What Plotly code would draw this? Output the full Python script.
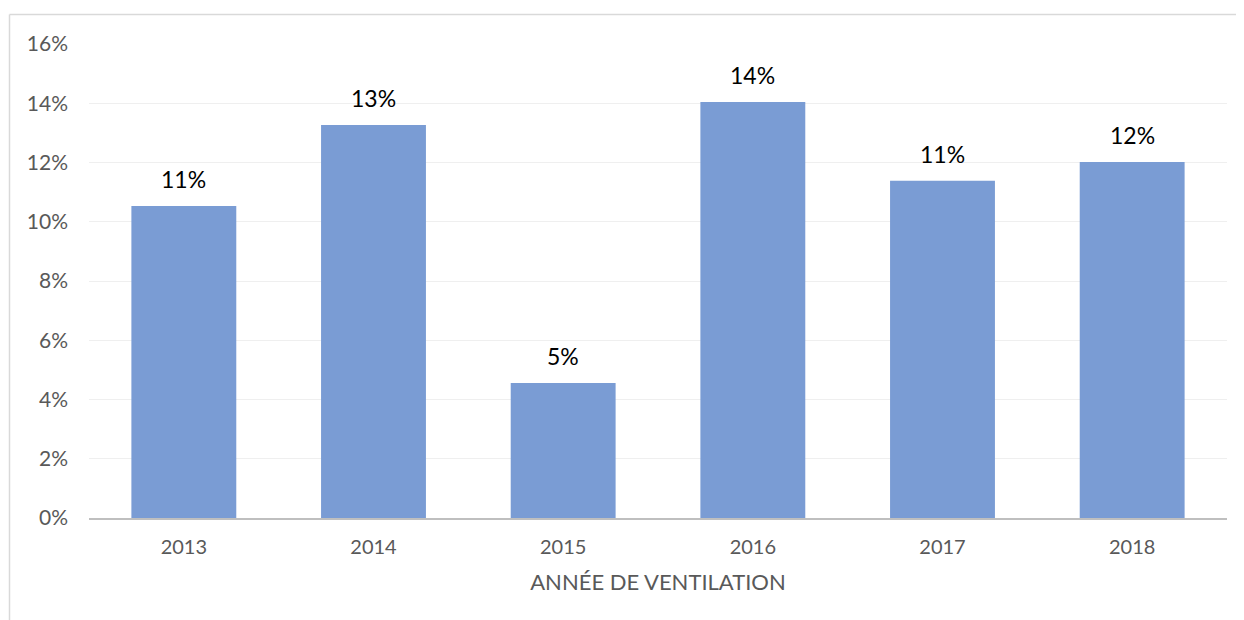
import plotly.graph_objects as go

years = ["2013", "2014", "2015", "2016", "2017", "2018"]
values = [0.1053, 0.1327, 0.0456, 0.1404, 0.1138, 0.1202]
labels = ["11%", "13%", "5%", "14%", "11%", "12%"]
y_ticks = [0, 0.02, 0.04, 0.06, 0.08, 0.10, 0.12, 0.14, 0.16]

FONT = "Lato"
OFF = 8  # browser default body margin
W, H = 1244 - OFF, 620 - OFF
L, R, T, B = 89 - OFF, 17, 44 - OFF, 102
PW, PH = W - L - R, H - T - B

fig = go.Figure()
fig.add_trace(go.Bar(
    x=years, y=values,
    marker=dict(color="#7A9CD4", line=dict(width=0)),
    hoverinfo="skip",
))

# category axis: annotate by category index
for i, (v, lab) in enumerate(zip(values, labels)):
    fig.add_annotation(x=i, y=v, text=lab, showarrow=False,
                       yanchor="bottom", yshift=11,
                       font=dict(family=FONT, size=23, color="#000000"))

frame_top = 14.5 - OFF
frame_left = 9.5 - OFF
fig.update_layout(
    width=W, height=H,
    margin=dict(l=L, r=R, t=T, b=B),
    paper_bgcolor="white", plot_bgcolor="white",
    showlegend=False,
    bargap=0.447,
    font=dict(family=FONT, color="#595959"),
    xaxis=dict(
        type="category", range=[-0.5, len(years) - 0.5],
        title=dict(text="ANNÉE DE VENTILATION", font=dict(size=22, color="#595959"), standoff=18),
        tickfont=dict(size=20, color="#595959"),
        showline=True, linecolor="#BFBFBF", linewidth=2,
        ticks="", showgrid=False, ticklabelstandoff=10,
    ),
    yaxis=dict(
        range=[0, 0.16], tickvals=y_ticks, tickformat=".0%",
        tickfont=dict(size=21, color="#595959"),
        showgrid=True, gridcolor="#EFEFEF", gridwidth=1,
        zeroline=False, ticks="", ticklabelstandoff=20,
    ),
    shapes=[
        dict(type="line", xref="paper", yref="paper",
             x0=(frame_left - L) / PW, x1=1.2,
             y0=1 + (T - frame_top) / PH, y1=1 + (T - frame_top) / PH,
             line=dict(color="#D9D9D9", width=1.5)),
        dict(type="line", xref="paper", yref="paper",
             x0=(frame_left - L) / PW, x1=(frame_left - L) / PW,
             y0=1 + (T - frame_top) / PH, y1=-0.5,
             line=dict(color="#D9D9D9", width=1.5)),
    ],
)

fig.write_html("out.html")
